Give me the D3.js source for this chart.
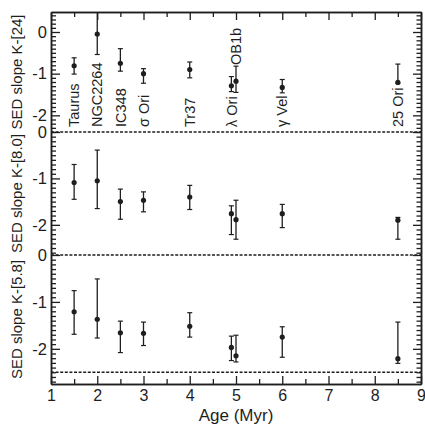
<!DOCTYPE html>
<html>
<head>
<meta charset="utf-8">
<script src="https://cdn.jsdelivr.net/npm/d3@7"></script>
<style>
  html, body { margin: 0; padding: 0; background: #fff; }
  svg { display: block; font-family: "Liberation Sans", Arial, sans-serif; }
</style>
</head>
<body>
<svg id="chart" width="425" height="426"></svg>
<script>
// Cluster ages (Myr) and names
const ages = [1.5, 2, 2.5, 3, 4, 4.9, 5, 6, 8.5];
const clusters = ["Taurus", "NGC2264", "IC348", "\u03c3 Ori", "Tr37", "\u03bb Ori", "OB1b", "\u03b3 Vel", "25 Ori"];

// Median SED slope K-[24] with upper / lower error-bar ends
const k24 =   [-0.81, -0.05, -0.75, -1.00, -0.90, -1.29, -1.18, -1.33, -1.21];
const k24Hi = [-0.62,  0.55, -0.40, -0.88, -0.72, -1.07, -0.82, -1.14, -0.77];
const k24Lo = [-1.01, -0.54, -0.94, -1.23, -1.10, -1.43, -1.45, -1.46, -1.23];

// SED slope K-[8.0]
const k80 =   [-1.09, -1.05, -1.50, -1.47, -1.40, -1.76, -1.89, -1.76, -1.90];
const k80Hi = [-0.70, -0.39, -1.23, -1.29, -1.15, -1.59, -1.47, -1.56, -1.84];
const k80Lo = [-1.45, -1.65, -1.88, -1.72, -1.67, -2.21, -2.31, -2.06, -2.31];

// SED slope K-[5.8]
const k58 =   [-1.21, -1.37, -1.66, -1.67, -1.52, -1.97, -2.15, -1.75, -2.21];
const k58Hi = [-0.76, -0.51, -1.41, -1.43, -1.23, -1.73, -1.71, -1.53, -1.43];
const k58Lo = [-1.69, -1.77, -2.08, -1.93, -1.75, -2.25, -2.28, -2.18, -2.31];

// Axis ticks
const xTicks = [1, 2, 3, 4, 5, 6, 7, 8, 9];
const xMinorTicks = [1.5, 2.5, 3.5, 4.5, 5.5, 6.5, 7.5, 8.5];
const yTicks = [0, -1, -2];

const svg = d3.select("#chart");
const ink = "#1e1e1e";
const plotLeft = 51, plotRight = 421, plotTop = 12, plotBottom = 384;

const x = d3.scaleLinear().domain([1, 9]).range([plotLeft, plotRight]);

const panels = [
  { title: "SED slope K-[24]",  vals: k24, hi: k24Hi, lo: k24Lo, domain: [-2.4, 0.48], y0: 12,  y1: 132, dashed: [] },
  { title: "SED slope K-[8.0]", vals: k80, hi: k80Hi, lo: k80Lo, domain: [-2.65, 0],   y0: 132, y1: 255, dashed: [0] },
  { title: "SED slope K-[5.8]", vals: k58, hi: k58Hi, lo: k58Lo, domain: [-2.75, 0],   y0: 255, y1: 384, dashed: [0, -2.5] }
];

function styleAxis(g) {
  g.selectAll("path.domain").attr("stroke", ink).attr("stroke-width", 1.5);
  g.selectAll(".tick line").attr("stroke", ink).attr("stroke-width", 1.3);
  g.selectAll(".tick text").attr("fill", ink).attr("font-family", "Liberation Sans, Arial, sans-serif");
}

panels.forEach((p, i) => {
  const y = d3.scaleLinear().domain(p.domain).range([p.y1, p.y0]);
  const minor = d3.range(Math.ceil(p.domain[0] * 10), Math.floor(p.domain[1] * 10) + 1)
    .map(d => d / 10).filter(d => !yTicks.includes(d));

  svg.append("clipPath").attr("id", "clip" + i)
    .append("rect").attr("x", plotLeft).attr("y", p.y0).attr("width", plotRight - plotLeft).attr("height", p.y1 - p.y0);

  // dashed reference lines
  svg.append("g").selectAll("line").data(p.dashed).join("line")
    .attr("x1", plotLeft).attr("x2", plotRight)
    .attr("y1", d => y(d)).attr("y2", d => y(d))
    .attr("stroke", ink).attr("stroke-width", 1.3).attr("stroke-dasharray", "3,1.6");

  // left axis: major ticks with labels, minor ticks
  const gl = svg.append("g").attr("transform", `translate(${plotLeft},0)`)
    .call(d3.axisLeft(y).tickValues(yTicks).tickFormat(d => String(d))
      .tickSizeInner(-9).tickSizeOuter(0).tickPadding(4));
  gl.selectAll(".tick text").attr("font-size", 16.5);
  styleAxis(gl);
  const glm = svg.append("g").attr("transform", `translate(${plotLeft},0)`)
    .call(d3.axisLeft(y).tickValues(minor).tickFormat("").tickSizeInner(-5).tickSizeOuter(0));
  styleAxis(glm);

  // right axis
  const gr = svg.append("g").attr("transform", `translate(${plotRight},0)`)
    .call(d3.axisRight(y).tickValues(yTicks).tickFormat("").tickSizeInner(-8).tickSizeOuter(0));
  styleAxis(gr);
  const grm = svg.append("g").attr("transform", `translate(${plotRight},0)`)
    .call(d3.axisRight(y).tickValues(minor).tickFormat("").tickSizeInner(-4.5).tickSizeOuter(0));
  styleAxis(grm);

  // panel title
  svg.append("text")
    .attr("transform", `translate(22,${(p.y0 + p.y1) / 2}) rotate(-90)`)
    .attr("text-anchor", "middle").attr("font-size", 15).attr("fill", ink)
    .text(p.title);

  // error bars and points
  const g = svg.append("g").attr("clip-path", `url(#clip${i})`);
  const rows = ages.map((a, j) => ({ a, v: p.vals[j], hi: p.hi[j], lo: p.lo[j] }));
  g.selectAll("line.bar").data(rows).join("line").attr("class", "bar")
    .attr("x1", d => x(d.a)).attr("x2", d => x(d.a))
    .attr("y1", d => y(d.hi)).attr("y2", d => y(d.lo))
    .attr("stroke", ink).attr("stroke-width", 1.3);
  ["hi", "lo"].forEach(k => {
    g.selectAll("line.cap" + k).data(rows).join("line").attr("class", "cap" + k)
      .attr("x1", d => x(d.a) - 2.5).attr("x2", d => x(d.a) + 2.5)
      .attr("y1", d => y(d[k])).attr("y2", d => y(d[k]))
      .attr("stroke", ink).attr("stroke-width", 1.2);
  });
  g.selectAll("circle").data(rows).join("circle")
    .attr("cx", d => x(d.a)).attr("cy", d => y(d.v)).attr("r", 2.6).attr("fill", ink);

  // cluster names in the top panel
  if (i === 0) {
    svg.append("g").selectAll("text").data(ages).join("text")
      .attr("transform", (d, j) => `translate(${x(d)},${clusters[j] === "OB1b" ? 65 : 127}) rotate(-90)`)
      .attr("dy", "0.36em").attr("font-size", 14.5).attr("fill", ink)
      .text((d, j) => clusters[j]);
  }
});

// bottom axis with labels
const gb = svg.append("g").attr("transform", `translate(0,${plotBottom})`)
  .call(d3.axisBottom(x).tickValues(xTicks).tickFormat(d => String(d))
    .tickSizeInner(-8).tickSizeOuter(0).tickPadding(6));
gb.selectAll(".tick text").attr("font-size", 16);
styleAxis(gb);
styleAxis(svg.append("g").attr("transform", `translate(0,${plotBottom})`)
  .call(d3.axisBottom(x).tickValues(xMinorTicks).tickFormat("").tickSizeInner(-5).tickSizeOuter(0)));

// top axis
styleAxis(svg.append("g").attr("transform", `translate(0,${plotTop})`)
  .call(d3.axisTop(x).tickValues(xTicks).tickFormat("").tickSizeInner(-8).tickSizeOuter(0)));
styleAxis(svg.append("g").attr("transform", `translate(0,${plotTop})`)
  .call(d3.axisTop(x).tickValues(xMinorTicks).tickFormat("").tickSizeInner(-5).tickSizeOuter(0)));

svg.append("text").attr("x", (plotLeft + plotRight) / 2).attr("y", 421)
  .attr("text-anchor", "middle").attr("font-size", 17).attr("fill", ink)
  .text("Age (Myr)");
</script>
</body>
</html>
